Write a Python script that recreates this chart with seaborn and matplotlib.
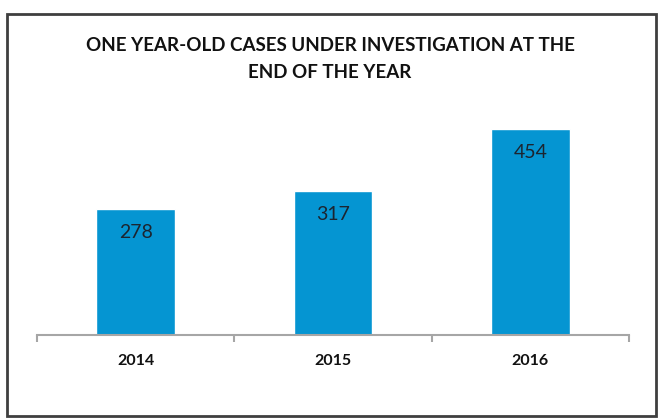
import numpy as np
import pandas as pd
import seaborn as sns
import matplotlib.pyplot as plt
from matplotlib.patches import Rectangle

# Chart data
years = ["2014", "2015", "2016"]
cases = [278, 317, 454]
title = "ONE YEAR-OLD CASES UNDER INVESTIGATION AT THE\nEND OF THE YEAR"

df = pd.DataFrame({"year": years, "cases": cases})

sns.set_theme(style="white")
plt.rcParams['font.family'] = ['Lato', 'DejaVu Sans']

fig = plt.figure(figsize=(6.6, 4.18), dpi=100)
ax = fig.add_axes([37 / 660, 1 - 335 / 418, (629 - 37) / 660, (335 - 108) / 418])

sns.barplot(data=df, x="year", y="cases", color="#0595D2", width=0.4,
            saturation=1, ax=ax)

ax.set_xlim(-0.5, 2.5)
ax.set_ylim(0, 500)

# value labels inside the top of each bar
for i, v in enumerate(cases):
    ax.annotate(f"{v}", (i, v), xytext=(0, -17), textcoords="offset points",
                ha="center", va="center", fontsize=14, color="#1c2530")

# axis styling
for side in ["top", "right", "left"]:
    ax.spines[side].set_visible(False)
ax.spines["bottom"].set_color("#a6a6a6")
ax.spines["bottom"].set_linewidth(1.5)
ax.set_yticks([])
ax.set_xlabel("")
ax.set_ylabel("")
ax.set_xticks([0, 1, 2])
ax.set_xticklabels(years, fontweight="bold", fontsize=11.5, color="#111111")
ax.tick_params(axis="x", length=0, pad=14)
ax.set_xticks([-0.5, 0.5, 1.5, 2.5], minor=True)
ax.tick_params(axis="x", which="minor", length=5, width=1.5, color="#a6a6a6",
               bottom=True)

fig.text(0.5, 1 - 59 / 418, title, ha="center", va="center", fontsize=13.5,
         fontweight="bold", color="#111111", linespacing=1.65)

# outer frame
fig.patches.append(Rectangle((7 / 660, 2 / 418), 649 / 660, 402 / 418,
                             transform=fig.transFigure, fill=False,
                             edgecolor="#3f3f3f", linewidth=2))

fig.savefig("out.png", dpi=100)
